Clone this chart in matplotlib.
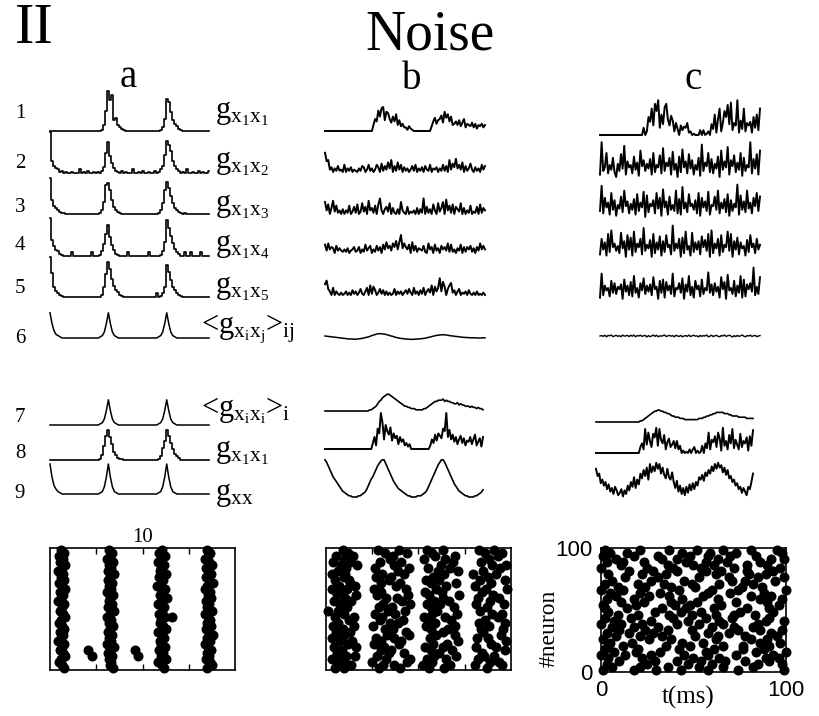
import numpy as np
import matplotlib
matplotlib.use("Agg")
import matplotlib.pyplot as plt

plt.rcParams['font.family'] = ['Liberation Serif', 'DejaVu Serif']
plt.rcParams['mathtext.fontset'] = 'custom'
plt.rcParams['mathtext.rm'] = 'Liberation Serif'
plt.rcParams['mathtext.it'] = 'Liberation Serif:italic'

W, H = 820, 716

# traces: one base-36 character per bin (level 0..35)
# column a (periodic drive)
A1 = ("0000000000" "0000000000" "00000015hx" "qu9b532100" "0000000000"
      "0000013aro" "g964210000" "0000000000")
A2 = ("ya64312010" "0100030102" "00101025hq" "e842102010" "0300102001"
      "0020136frn" "ia63201030" "0100201002")
A3 = ("uc75321100" "0000000000" "0000013aoq" "kc63210000" "0000000000"
      "0000139krm" "f953210100" "0000000000")
A4 = ("wd85421000" "0300000000" "0300014aiq" "g952100003" "0000000003"
      "0000014cun" "hb63200300" "3000030000")
A5 = ("xk85321000" "0000000000" "00000028jt" "nf96421000" "0000000000"
      "00030138rl" "e863210000" "0000000000")
A6 = ("lc63210000" "0000000000" "00000125cl" "c521000000" "0000000000"
      "0000125clc" "5210000000" "0000000000")
A7 = ("0000000000" "0000000000" "00000125cl" "c521000000" "0000000000"
      "0000125clc" "5210000000" "0000000000")
A8 = ("0000000000" "0000000000" "0000014ckp" "jd74211000" "0000000000"
      "000013agpk" "e953200000" "0000000000")
A9 = ("pe74210000" "0000000000" "00000126ep" "e621000000" "0000000000"
      "0000126epe" "6210000000" "0000000000")

# column b (weak noise)
B1 = ("0000000000" "0000000000" "0000000000" "5a8hcjk9gf" "a7c8e59463"
      "3142100000" "00000048b6" "9ad7gbe8c5" "685947a365" "4736254635")
B2 = ("g9a2403151" "2060314021" "0315402613" "0264071528" "3a05182604"
      "1302516031" "4052160324" "0316150a27" "4b36280513" "7204130625")
B3 = ("a3805b2713" "0403170261" "8029260b35" "1708d30462" "9051040a31"
      "0602130504" "1d06140830" "925a0c3718" "0642905031" "7021608153")
B4 = ("7283540624" "2131402351" "2503172460" "3162507394" "6285a39f48"
      "5370926143" "2610835072" "4063528171" "3042705153" "6140528363")
B5 = ("9c53060310" "2013020413" "0251036081" "7402514030" "2015031302"
      "4152061304" "1603528073" "6e3b7058a2" "4035021304" "1020301020")
B6 = ("kjihgfedcb" "a987655544" "5678acegjm" "pruvwvutrp" "mkifdb9876"
      "5443344556" "789bdfhjln" "opqqqpomlk" "jihgfeddcc" "bbbbaaaabb")
B7 = ("0000000000" "0000000000" "0000000011" "234689bcde" "edcba98765"
      "4433222111" "1122345678" "8999a89887" "7667565544" "4343323221")
B8 = ("0000000000" "0000000000" "0000000000" "5a3hdum8kf" "ci7d9b4a68"
      "3524000000" "000000385c" "7db9hfuag8" "c6a48b5937" "6a48c3692a")
B9 = ("vtqnkhfdb9" "7543211000" "01123469cf" "hknqsuvvsp" "mjgdb97654"
      "3211000011" "123469cfil" "ortvvtqnkh" "eb97543211" "0000112346")

# column c (strong noise)
C1 = ("0000000000" "0000000000" "0000000603" "fbm8qkt6h9" "nqd8gc3a50"
      "8476a23010" "0040401309" "5h2dm3akfp" "9r4a8t2c5m" "3a8b2f6h4m")
C2 = ("2t58k3a6g4" "0b5j7q2d8a" "3h6c1m9e5b" "7f2k4a8i3o" "5c9g2l6b0h"
      "4n8d3j7e2a" "6g1r5c9k4f" "3b7h0m6d8p" "2e9i4c6k1g" "5a8t3f7j2m")
C3 = ("5q3g8c2k6e" "1a7h4m9d3b" "6f2j5c8l0i" "4b9e3k7g1n" "8d2h6a5m3f"
      "2p7c4j9b6e" "3k1g8d5l2a" "9h6m3c7f4j" "1e5b8r2i6d" "4m7c3g9k5h")
C4 = ("3g7d2k5n9c" "6a4l8e1j7h" "2m5c9g3p6b" "8f1k4d7i2e" "5j9b3r6c8g"
      "1h4m7a2l5d" "7e3i9f6k1n" "4c8g2j5b9m" "6k1e7h3d8a" "2f5j9c4g7b")
C5 = ("2m4c8a3g6e" "5b9d1h7c4f" "3k6a2e8i5c" "7d4j9b1g6h" "2f8c5m3a9e"
      "6i1d7k4b2g" "9c3h5a8n6d" "4e7b2j9f1l" "8a5g3c6k2h" "3d9e7r4b5j")
C6 = ("fhdjbigkcf" "jdhbkegicj" "ekbhfjdgia" "hcfkdjbgeh" "kcgiehbjfd"
      "ibfhdkcgje" "gaidhfkbej" "cgiebhfkdg" "jfahcidgke" "bhfjdgicfh")
C7 = ("0000000000" "0000000000" "0000000011" "234567899a" "a998877655"
      "4443332222" "2222233344" "5566778888" "8777665555" "4444433333")
C8 = ("0000000000" "0000000000" "0000000058" "3k7ha5gdl6" "kb8f39c57a"
      "4a36020103" "0350201608" "4h3b9e5hc2" "l6a3f8k4b7" "3g5a8d2e6j")
C9 = ("qkmehcf9d7" "a5b8469385" "c8fbjahdmi" "pkrhunsovq" "umrliqjhnf"
      "ag7c5a4b6d" "8e9fcjhlgn" "kpmsouqvrt" "nrlpikfhce" "9b6a74b9fm")

# raster plots: spike times, one list per neuron group (first = top)
SPIKES_A = [
    [1.2, 6.4, 12.1, 17.0], [1.5, 6.7, 11.8, 17.3], [1.0, 6.5, 12.4, 17.1],
    [1.4, 6.2, 12.0, 16.8], [1.1, 6.8, 11.7, 17.2], [1.6, 6.4, 12.3, 17.5],
    [1.3, 6.6, 12.0, 16.9], [0.9, 6.3, 11.9, 17.1], [1.4, 6.9, 12.5, 17.4],
    [1.2, 6.5, 11.8, 16.9], [1.5, 6.3, 12.2, 17.2], [1.0, 6.7, 12.0, 17.6],
    [1.3, 6.4, 11.6, 17.0], [1.6, 6.6, 12.4, 16.8], [1.1, 6.2, 12.1, 17.3],
    [1.4, 6.8, 11.9, 17.1], [1.2, 6.5, 12.6, 17.4], [0.9, 6.4, 12.0, 16.9],
    [1.5, 6.7, 11.7, 17.2], [1.3, 6.3, 12.3, 17.0], [1.1, 6.9, 12.1, 17.5],
    [1.4, 6.5, 11.8, 16.8], [1.6, 6.2, 12.4, 13.2, 17.1], [1.2, 6.6, 12.0, 17.3],
    [1.0, 6.4, 11.9, 17.0], [1.3, 6.8, 12.2, 17.4], [1.5, 6.5, 12.5, 16.9],
    [1.1, 6.3, 11.7, 17.2], [1.4, 6.7, 12.1, 17.6], [1.2, 6.4, 12.3, 17.0],
    [0.9, 6.6, 11.9, 17.3], [1.5, 6.2, 12.0, 16.8], [1.3, 6.9, 12.4, 17.1],
    [1.1, 4.1, 6.5, 9.2, 11.8, 17.4], [1.4, 6.3, 12.2, 17.0],
    [1.6, 4.5, 6.7, 9.5, 12.0, 17.2], [1.2, 6.4, 12.5, 16.9],
    [1.0, 6.6, 11.7, 17.3], [1.3, 6.5, 12.1, 17.5], [1.5, 6.8, 12.3, 17.0],
]
SPIKES_B = [
    [1.8, 5.6, 7.9, 10.9, 12.6, 16.5, 18.2], [2.4, 6.4, 8.8, 11.5, 17.2, 19.0],
    [1.1, 2.9, 7.2, 11.8, 14.0, 18.6], [2.0, 6.9, 10.6, 12.9, 17.6],
    [0.8, 2.6, 5.8, 8.1, 13.7, 16.8], [1.6, 3.3, 7.4, 12.4, 17.9, 19.5],
    [2.2, 5.3, 9.0, 11.0, 13.4, 18.8], [1.3, 7.8, 12.1, 14.3, 17.0],
    [0.6, 2.1, 6.1, 8.4, 12.8, 15.9, 18.4], [1.9, 5.4, 7.0, 11.6, 17.5],
    [1.0, 2.5, 6.8, 10.8, 12.2, 16.6, 19.4], [2.6, 5.9, 8.0, 11.4, 14.1, 17.8],
    [1.4, 3.1, 7.6, 13.0, 16.1], [0.7, 2.3, 5.2, 8.6, 11.9, 17.3, 19.6],
    [1.7, 6.0, 10.7, 12.5, 16.9], [1.2, 3.2, 5.5, 8.9, 11.1, 14.4, 18.1],
    [2.1, 6.5, 7.7, 12.7, 16.4, 18.7], [0.9, 2.7, 8.2, 11.7, 13.3, 17.7],
    [1.5, 6.2, 9.1, 10.9, 12.3, 16.2, 19.2], [2.3, 5.7, 7.1, 11.3, 13.8, 17.4],
    [0.2, 1.3, 6.7, 8.5, 12.0, 16.7], [1.9, 5.3, 7.5, 11.5, 14.2, 17.9, 19.0],
    [1.0, 3.0, 6.1, 10.6, 12.9, 18.6], [2.5, 5.8, 8.3, 11.0, 13.5, 17.2],
    [1.3, 6.9, 7.8, 11.8, 16.5, 19.4], [0.8, 3.0, 5.1, 10.8, 14.0, 17.6],
    [1.8, 6.4, 7.2, 11.4, 13.2, 16.8, 19.1], [1.1, 2.6, 8.7, 12.6, 17.0],
    [2.0, 6.6, 9.0, 11.9, 13.9, 18.9], [0.7, 1.6, 5.4, 7.4, 11.2, 16.3, 17.5],
    [1.5, 2.8, 6.0, 8.1, 14.3, 19.5], [2.4, 5.2, 7.9, 11.6, 13.1, 17.8],
    [0.9, 3.2, 6.3, 10.7, 12.7, 16.2, 18.4], [1.7, 5.9, 7.0, 11.3, 13.6, 19.3],
    [1.2, 6.8, 8.4, 12.2, 16.9], [2.2, 3.1, 5.5, 11.7, 14.1, 17.1, 18.2],
    [0.6, 1.9, 6.5, 9.1, 10.9, 13.0, 16.4], [1.4, 5.0, 8.8, 11.5, 17.7, 18.7],
    [2.7, 6.2, 7.3, 10.5, 13.4, 16.1, 19.0], [1.0, 2.0, 5.7, 8.0, 11.1, 12.8, 17.4],
]
SPIKES_C = [
    [2, 21, 37, 52, 66, 81, 95], [5, 14, 44, 59, 73, 98], [1, 18, 31, 48, 58, 70, 84],
    [8, 33, 41, 63, 92, 99], [3, 12, 23, 46, 57, 68, 86], [11, 36, 50, 61, 79, 90],
    [0, 25, 39, 54, 72, 97], [15, 28, 41, 57, 65, 79, 93], [4, 22, 35, 62, 80, 89],
    [13, 31, 53, 69, 85, 99], [6, 27, 45, 71, 78, 94], [2, 20, 34, 49, 64, 82],
    [9, 24, 38, 51, 76, 87], [0, 12, 42, 60, 74, 100], [5, 21, 32, 58, 70, 88],
    [8, 26, 37, 55, 81, 92], [3, 18, 44, 63, 86, 98], [11, 23, 38, 52, 73, 90],
    [1, 19, 40, 48, 65, 96], [2, 14, 33, 46, 61, 79, 91], [4, 29, 43, 54, 75, 93],
    [9, 20, 37, 49, 62, 72, 83], [2, 16, 39, 57, 71, 91], [7, 27, 47, 64, 89, 99],
    [0, 11, 22, 41, 53, 66, 85], [6, 18, 31, 60, 72, 82], [10, 24, 36, 49, 74, 86, 98],
    [3, 15, 28, 58, 69, 92], [8, 21, 33, 51, 63, 78, 95], [1, 26, 38, 62, 81, 90],
    [5, 17, 44, 55, 86, 97], [4, 12, 35, 48, 66, 77, 91], [2, 20, 42, 61, 77, 88],
    [7, 19, 32, 57, 84, 100], [0, 13, 27, 45, 58, 73, 93], [4, 22, 50, 64, 89, 96],
    [10, 29, 41, 54, 67, 78, 91], [3, 25, 47, 60, 85, 98], [6, 21, 36, 53, 66, 82],
    [1, 18, 30, 43, 58, 74, 99],
]

ROW_NUMBERS = ['1', '2', '3', '4', '5', '6', '7', '8', '9']
ROW_LABELS = [r'$\mathrm{g_{x_1x_1}}$', r'$\mathrm{g_{x_1x_2}}$',
              r'$\mathrm{g_{x_1x_3}}$', r'$\mathrm{g_{x_1x_4}}$',
              r'$\mathrm{g_{x_1x_5}}$', r'<$\mathrm{g_{x_ix_j}}$>$\mathrm{_{ij}}$',
              r'<$\mathrm{g_{x_ix_i}}$>$\mathrm{_{i}}$', r'$\mathrm{g_{x_1x_1}}$',
              r'$\mathrm{g_{xx}}$']


def levels(s):
    return np.array([int(ch, 36) for ch in s])


def px_axes(fig, left, top, right, bottom):
    return fig.add_axes([left / W, 1 - bottom / H, (right - left) / W, (bottom - top) / H])


fig = plt.figure(figsize=(W / 100, H / 100), dpi=100)

# (data, left, right, baseline, height in px for 35 levels, step drawing?, line width)
trace_layout = [
    (A1, 50, 209, 131, 42, True, 1.2), (A2, 50, 209, 173, 42, True, 1.2),
    (A3, 50, 209, 214, 42, True, 1.2), (A4, 50, 209, 256, 42, True, 1.2),
    (A5, 50, 209, 297, 42, True, 1.2), (A6, 50, 209, 338, 42, False, 1.1),
    (A7, 50, 209, 425, 42, False, 1.1), (A8, 50, 209, 460, 42, True, 1.2),
    (A9, 50, 209, 494, 42, False, 1.1),
    (B1, 325, 485, 131, 42, False, 1.4), (B2, 325, 485, 172, 42, False, 1.4),
    (B3, 325, 485, 214, 42, False, 1.4), (B4, 325, 485, 253, 42, False, 1.4),
    (B5, 325, 485, 295, 42, False, 1.4), (B6, 325, 485, 340, 7, False, 1.1),
    (B7, 325, 483, 411, 42, False, 1.2), (B8, 325, 483, 449, 42, False, 1.4),
    (B9, 325, 483, 497, 42, False, 1.2),
    (C1, 600, 760, 135, 42, False, 1.4), (C2, 600, 760, 177, 42, False, 1.4),
    (C3, 600, 760, 217, 42, False, 1.4), (C4, 600, 760, 258, 42, False, 1.4),
    (C5, 600, 760, 300, 42, False, 1.4), (C6, 600, 760, 339, 7, False, 1.0),
    (C7, 596, 753, 422, 42, False, 1.2), (C8, 596, 753, 453, 42, False, 1.4),
    (C9, 596, 753, 500, 42, False, 1.4),
]

for data, left, right, base, hgt, step, lw in trace_layout:
    ax = px_axes(fig, left, base - hgt, right, base)
    y = levels(data)
    x = np.arange(len(y))
    ax.plot(x, y, color='black', lw=lw, clip_on=False,
            drawstyle='steps-mid' if step else 'default')
    ax.set_xlim(0, len(y) - 1)
    ax.set_ylim(0, 35)
    ax.axis('off')

# rasters
raster_layout = [
    (SPIKES_A, 50, 548, 235, 670, 20),
    (SPIKES_B, 326, 548, 511, 670, 20),
    (SPIKES_C, 601, 548, 786, 672, 100),
]
raster_axes = []
for spikes, left, top, right, bottom, xmax in raster_layout:
    ax = px_axes(fig, left, top, right, bottom)
    n = len(spikes)
    for k, times in enumerate(spikes):
        ax.scatter(times, [100 - (k + 0.5) * 100 / n] * len(times), s=52,
                   color='black', linewidths=0, clip_on=False, zorder=3)
    ax.set_xlim(0, xmax)
    ax.set_ylim(0, 100)
    for sp in ax.spines.values():
        sp.set_linewidth(1.2)
    raster_axes.append(ax)

for ax in raster_axes[:2]:
    ax.set_xticks([5, 10, 15])
    ax.set_yticks([])
    ax.tick_params(axis='x', direction='in', length=4, width=1, top=True,
                   labelbottom=False, labeltop=False)
raster_axes[0].tick_params(axis='x', labeltop=True, labelsize=15, pad=1)
raster_axes[0].set_xticklabels(['', '10', ''])

axc = raster_axes[2]
axc.set_xticks([0, 100])
axc.set_yticks([0, 100])
axc.tick_params(direction='in', length=3, width=1, labelsize=16, pad=6)
axc.set_xticklabels(['0', '100'], family='Liberation Sans')
axc.set_yticklabels(['0', '100'], family='Liberation Sans')


def ftext(x, y, s, **kw):
    fig.text(x / W, 1 - y / H, s, **kw)


ftext(15, 43, 'II', fontsize=42, ha='left', va='baseline')
ftext(430, 50, 'Noise', fontsize=40, ha='center', va='baseline')
ftext(128, 87, 'a', fontsize=28, ha='center', va='baseline')
ftext(412, 89, 'b', fontsize=28, ha='center', va='baseline')
ftext(693, 89, 'c', fontsize=28, ha='center', va='baseline')

num_base = [118, 168, 212, 250, 293, 343, 422, 458, 498]
lab_pos = [(215, 118), (215, 168), (215, 211), (215, 251), (215, 293),
           (201, 333), (201, 416), (215, 457), (215, 500)]
for num, yb, lab, (lx, ly) in zip(ROW_NUMBERS, num_base, ROW_LABELS, lab_pos):
    ftext(20, yb, num, fontsize=15, ha='center', va='baseline')
    ftext(lx, ly, lab, fontsize=22, ha='left', va='baseline')

ftext(549, 628, '#neuron', fontsize=17, rotation=90, ha='center', va='center')
ftext(688, 697, 't(ms)', fontsize=18, ha='center', va='center')

fig.savefig('out.png', dpi=100, facecolor='white')
